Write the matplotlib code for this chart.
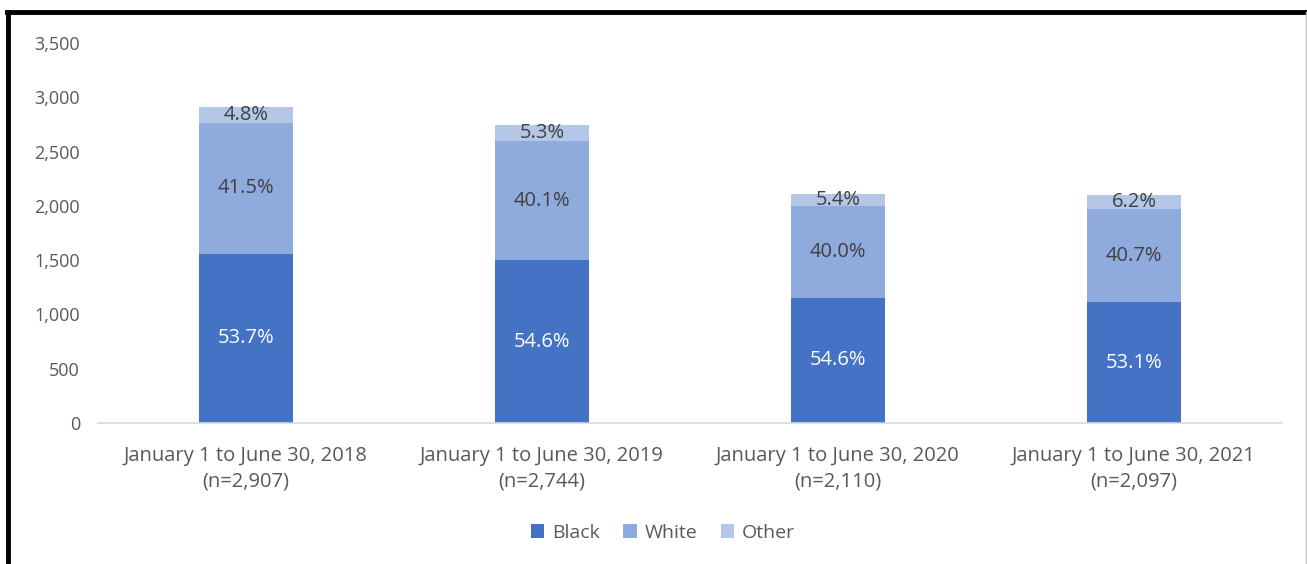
import matplotlib
matplotlib.use("Agg")
import matplotlib.pyplot as plt
from matplotlib.lines import Line2D
import numpy as np

categories = ["January 1 to June 30, 2018\n(n=2,907)",
              "January 1 to June 30, 2019\n(n=2,744)",
              "January 1 to June 30, 2020\n(n=2,110)",
              "January 1 to June 30, 2021\n(n=2,097)"]
totals = [2907, 2744, 2110, 2097]
black_pct = [53.7, 54.6, 54.6, 53.1]
white_pct = [41.5, 40.1, 40.0, 40.7]
other_pct = [4.8, 5.3, 5.4, 6.2]
yticks = [0, 500, 1000, 1500, 2000, 2500, 3000, 3500]

colors = ["#4472C4", "#8FAADC", "#B4C7E7"]
names = ["Black", "White", "Other"]

plt.rcParams['font.family'] = ['Open Sans', 'DejaVu Sans']
fig = plt.figure(figsize=(13.07, 5.64), dpi=100)
ax = fig.add_axes([98/1307, 1 - 423/564, (1282-98)/1307, (423-43)/564])

x = np.arange(len(categories))
tot = np.array(totals, float)
segs = [tot*np.array(black_pct)/100, tot*np.array(white_pct)/100, tot*np.array(other_pct)/100]
pcts = [black_pct, white_pct, other_pct]
bottom = np.zeros(len(x))
txtcol = ["white", "#404040", "#404040"]
for s, c, n, p, tc in zip(segs, colors, names, pcts, txtcol):
    ax.bar(x, s, 0.315, bottom=bottom, color=c, label=n)
    for xi, b, v, pv in zip(x, bottom, s, p):
        ax.text(xi, b + v/2, f"{pv:.1f}%", ha="center", va="center", color=tc, fontsize=14.5)
    bottom = bottom + s

ax.set_xlim(-0.5, len(x) - 0.5)
ax.set_ylim(0, 3500)
ax.set_yticks(yticks)
ax.set_yticklabels([f"{v:,}" for v in yticks])
ax.set_xticks(x)
ax.set_xticklabels(categories, fontsize=14.5, color="#595959", linespacing=1.4)
ax.tick_params(axis="y", labelsize=13, labelcolor="#595959", length=0, pad=13)
ax.tick_params(axis="x", length=0, pad=16.5)
for sp in ["top", "right", "left"]:
    ax.spines[sp].set_visible(False)
ax.spines["bottom"].set_color("#D9D9D9")
ax.spines["bottom"].set_linewidth(1.2)

leg = fig.legend(loc="center", bbox_to_anchor=(663/1307, 1 - 533/564), ncol=3, frameon=False,
                 fontsize=14, handlelength=0.7, handleheight=0.7, columnspacing=1.2, handletextpad=0.4)
for t in leg.get_texts():
    t.set_color("#595959")

# frame
fig.add_artist(Line2D([8/1307, 8/1307], [0, 1 - 12/564], color="black", lw=3.5, transform=fig.transFigure))
fig.add_artist(Line2D([6.5/1307, 1], [1 - 12/564, 1 - 12/564], color="black", lw=3.5, transform=fig.transFigure))
fig.add_artist(Line2D([1305.5/1307, 1305.5/1307], [0, 1 - 12/564], color="#BFBFBF", lw=1, transform=fig.transFigure))

fig.savefig("out.png", dpi=100)
